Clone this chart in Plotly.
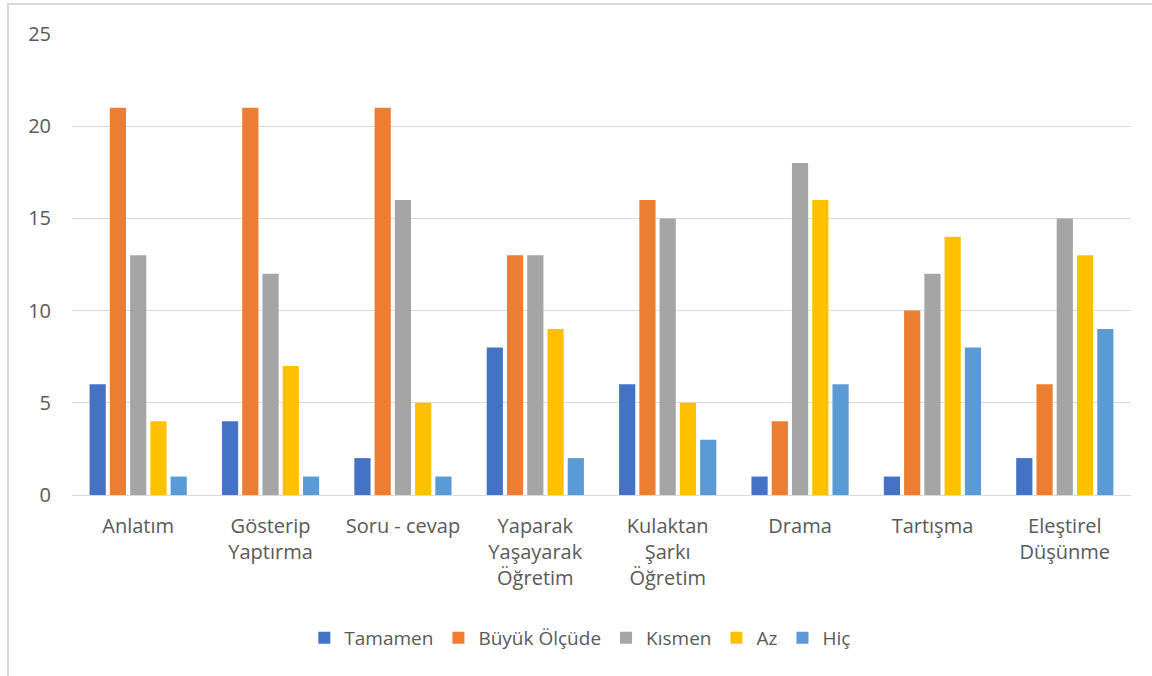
import plotly.graph_objects as go

categories = ["Anlatım", "Gösterip<br>Yaptırma", "Soru - cevap", "Yaparak<br>Yaşayarak<br>Öğretim",
              "Kulaktan<br>Şarkı<br>Öğretim", "Drama", "Tartışma", "Eleştirel<br>Düşünme"]

tamamen = [6, 4, 2, 8, 6, 1, 1, 2]
buyuk_olcude = [21, 21, 21, 13, 16, 4, 10, 6]
kismen = [13, 12, 16, 13, 15, 18, 12, 15]
az = [4, 7, 5, 9, 5, 16, 14, 13]
hic = [1, 1, 1, 2, 3, 6, 8, 9]

series = [("Tamamen", tamamen, "#4472C4"),
          ("Büyük Ölçüde", buyuk_olcude, "#ED7D31"),
          ("Kısmen", kismen, "#A5A5A5"),
          ("Az", az, "#FFC000"),
          ("Hiç", hic, "#5B9BD5")]

yticks = [0, 5, 10, 15, 20, 25]

fig = go.Figure()
for name, vals, color in series:
    fig.add_trace(go.Bar(x=categories,
                         y=vals,
                         name=name,
                         marker=dict(color=color, line=dict(width=0))))

fig.update_layout(width=1152, height=676,
                  barmode="group",
                  bargap=0.235,
                  bargroupgap=0.2,
                  font=dict(family="Open Sans", size=20, color="#595959"),
                  margin=dict(l=72, r=21, t=34, b=181),
                  paper_bgcolor="white",
                  plot_bgcolor="white",
                  showlegend=True,
                  legend=dict(orientation="h",
                              xanchor="center", x=0.48,
                              yanchor="middle", y=-0.31,
                              font=dict(size=19, color="#595959"),
                              itemwidth=30,
                              traceorder="normal"))

fig.update_xaxes(showgrid=False, showline=True, linecolor="#D9D9D9", linewidth=1,
                 tickfont=dict(size=20), ticklabelstandoff=13)
fig.update_yaxes(range=[0, 25], tickvals=yticks, showgrid=True, gridcolor="#D9D9D9",
                 gridwidth=1, zeroline=False, showline=False,
                 tickfont=dict(size=20), ticklabelstandoff=20)

# outer chart border (cropped on right and bottom in the reference)
fig.add_shape(type="rect", xref="paper", yref="paper",
              x0=-64 / 1059, x1=1.05, y0=-0.5, y1=1 + 30 / 461,
              line=dict(color="#D9D9D9", width=2), layer="below")

fig.write_html("out.html", config={"displayModeBar": False},
               post_script="document.body.style.margin='0';")
